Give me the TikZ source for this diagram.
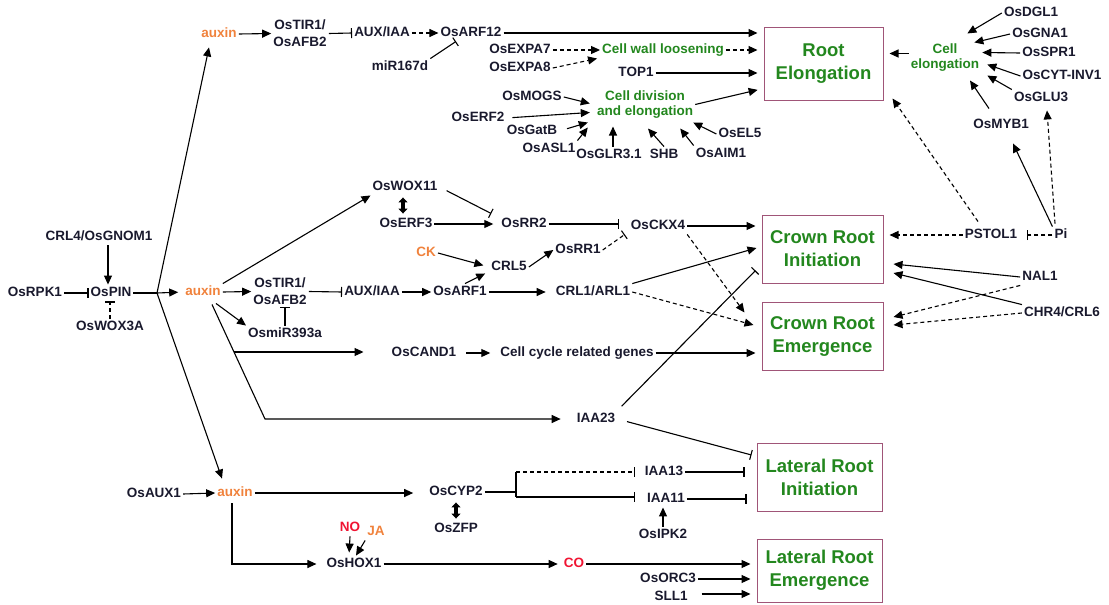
\documentclass[tikz,border=0pt]{standalone}
\usepackage{fontspec}
\setmainfont{Liberation Sans}
\usetikzlibrary{arrows.meta,calc}
\newlength{\du}
\setlength{\du}{1pt}

\begin{document}
\begin{tikzpicture}[x=\du,y=-\du,
  base/.style={inner sep=2pt, font=\fontsize{13.5}{15}\selectfont\bfseries},
  gene/.style={base, text=txt, text height=9.7pt, text depth=2.8pt},
  gene2/.style={base, text=txt, align=center, font=\fontsize{13.5}{17}\selectfont\bfseries},
  proc/.style={base, text=grn, align=center},
  hormone/.style={gene, text=orng},
  sig/.style={gene, text=redc},
  outcome/.style={draw=boxc, line width=1pt, align=center, text=grn, inner sep=0pt,
    font=\fontsize{18.5}{23}\selectfont\bfseries},
  act/.style={line width=1.1pt, -{Triangle[length=9pt,width=8pt]}},
  dact/.style={act, dash pattern=on 4pt off 3pt},
  inh/.style={line width=1.1pt, -{Bar[width=10pt]}},
  dinh/.style={inh, dash pattern=on 4pt off 3pt},
  plain/.style={line width=1.1pt},
  tobox/.style={shorten >=6pt},
  bind/.style={line width=3.5pt, shorten <=2pt, shorten >=2pt,
    {Triangle[length=5pt,width=9pt]}-{Triangle[length=5pt,width=9pt]}}
]
\definecolor{txt}{RGB}{25,25,45}
\definecolor{grn}{RGB}{35,135,30}
\definecolor{orng}{RGB}{240,130,60}
\definecolor{redc}{RGB}{240,20,50}
\definecolor{boxc}{RGB}{160,85,120}
\useasboundingbox (0,0) rectangle (1109,605);

% outcome boxes
\node[outcome, minimum width=119\du, minimum height=73\du] (RE) at (823.5,63.5) {Root\\Elongation};
\node[outcome, minimum width=121\du, minimum height=68\du] (CRI) at (822.5,249) {Crown Root\\Initiation};
\node[outcome, minimum width=121\du, minimum height=68\du] (CRE) at (822.5,336) {Crown Root\\Emergence};
\node[outcome, minimum width=125\du, minimum height=68\du] (LRI) at (819.5,477) {Lateral Root\\Initiation};
\node[outcome, minimum width=125\du, minimum height=63\du] (LRE) at (819.5,570.5) {Lateral Root\\Emergence};

% upper auxin branch
\node[hormone] (auxA) at (219,34) {auxin};
\node[gene2] (tirA) at (300,33.5) {OsTIR1/\\OsAFB2};
\node[gene] (aiaA) at (382,33) {AUX/IAA};
\node[gene] (arf12) at (471,33) {OsARF12};
\node[gene] (mir167) at (400,67) {miR167d};
\node[gene] (expa7) at (520,50) {OsEXPA7};
\node[gene] (expa8) at (520,68) {OsEXPA8};
\node[proc] (cwl) at (663,50) {Cell wall loosening};
\node[gene] (top1) at (636,73) {TOP1};
\node[gene] (mogs) at (532,97) {OsMOGS};
\node[proc] (cde) at (645,104.5) {Cell division\\and elongation};
\node[gene] (erf2) at (478,118) {OsERF2};
\node[gene] (gatb) at (532,131) {OsGatB};
\node[gene] (asl1) at (549,149) {OsASL1};
\node[gene] (glr) at (609,155) {OsGLR3.1};
\node[gene] (shb) at (664,155) {SHB};
\node[gene] (aim1) at (721,154) {OsAIM1};
\node[gene] (el5) at (740,134) {OsEL5};

\draw[act] (auxA.east) -- (tirA.west);
\draw[inh] (tirA.east) -- (aiaA.west);
\draw[dact] (aiaA.east) -- (arf12.west);
\draw[inh] (mir167.north east) -- ($(arf12.south)+(-15,0)$);
\draw[act,tobox] (arf12.east) -- (arf12.east -| RE.west);
\draw[dact] (expa7.east) -- (cwl.west);
\draw[dact] (expa8.east) -- ($(cwl.south west)+(-3,0)$);
\draw[dact,tobox] (cwl.east) -- (cwl.east -| RE.west);
\draw[act,tobox] (top1.east) -- (top1.east -| RE.west);
\draw[act] (mogs.east) -- ($(cde.west)+(-5,-1)$);
\draw[act,shorten <=6pt] (erf2.east) -- ($(cde.west)+(-5,8)$);
\draw[act,shorten <=8pt] (gatb.east) -- ($(cde.south west)+(-7,2)$);
\draw[act] (asl1.north east) -- ($(cde.south west)+(-7,7)$);
\draw[act] ($(glr.north)+(4,0)$) -- ($(glr.north |- cde.south)+(4,6)$);
\draw[act] (shb.north) -- ($(cde.south)+(3,8)$);
\draw[act] (aim1.north west) -- ($(cde.south east)+(-15,8)$);
\draw[act] (el5.west) -- ($(cde.south east)+(-2,2)$);
\draw[act,tobox] (cde.east) -- ($(RE.south west)+(0,-12)$);

% cell elongation group
\node[proc] (cel) at (945,57.5) {Cell\\elongation};
\node[gene] (dgl1) at (1031,13) {OsDGL1};
\node[gene] (gna1) at (1040,34) {OsGNA1};
\node[gene] (spr1) at (1049,53) {OsSPR1};
\node[gene] (cytinv) at (1062,76) {OsCYT-INV1};
\node[gene] (glu3) at (1041,98) {OsGLU3};
\node[gene] (myb1) at (1001,125) {OsMYB1};
\node[gene] (pi) at (1061,235) {Pi};
\node[gene] (pstol) at (991,235) {PSTOL1};
\node[gene] (nal1) at (1040,277) {NAL1};
\node[gene] (chr4) at (1062,313) {CHR4/CRL6};

\draw[act,tobox] ($(cel.west)+(0,-4)$) -- ($(cel.west -| RE.east)+(0,-4)$);
\draw[act] (dgl1.west) -- ($(cel.north east)+(-14,-8)$);
\draw[act] (gna1.west) -- ($(cel.north east)+(-7,1)$);
\draw[act] (spr1.west) -- ($(cel.east)+(1,-5)$);
\draw[act] (cytinv.west) -- ($(cel.east)+(6,7)$);
\draw[act] (glu3.north west) -- ($(cel.south east)+(6,2)$);
\draw[act] ($(myb1.north)+(-12,-8)$) -- ($(cel.south)+(25,7)$);
\draw[dinh] (pi.west) -- ($(pstol.east)+(8,0)$);
\draw[act] (pi.north west) -- ($(myb1.south)+(12,10)$);
\draw[dact] ($(pi.north)+(-6,-3)$) -- ($(glu3.south)+(6,4)$);
\draw[dact] ($(pstol.north)+(-13,-5)$) -- ($(RE.south east)+(9,-2)$);
\draw[dact,tobox] (pstol.west) -- (pstol.west -| CRI.east);
\draw[act] (nal1.west) -- ($(CRI.east)+(10,15)$);
\draw[act] (chr4.north west) -- ($(CRI.east)+(10,24)$);
\draw[dact] (nal1.south west) -- ($(CRE.east)+(10,-19)$);
\draw[dact] (chr4.west) -- ($(CRE.east)+(10,-11)$);

% OsPIN and middle auxin branch
\node[gene] (crl4) at (99,237) {CRL4/OsGNOM1};
\node[gene] (ospin) at (111,293) {OsPIN};
\node[gene] (rpk1) at (35,293) {OsRPK1};
\node[gene] (wox3a) at (110,327) {OsWOX3A};
\node[hormone] (auxB) at (203,292) {auxin};
\node[gene2] (tirB) at (280,291.5) {OsTIR1/\\OsAFB2};
\node[gene] (aiaB) at (372,292) {AUX/IAA};
\node[gene] (arf1) at (460,292) {OsARF1};
\node[gene] (mir393) at (285,334) {OsmiR393a};
\node[gene] (wox11) at (405,187) {OsWOX11};
\node[gene] (erf3) at (406,224) {OsERF3};
\node[gene] (rr2) at (524,224) {OsRR2};
\node[gene] (ckx4) at (658,226) {OsCKX4};
\node[gene] (rr1) at (578,250) {OsRR1};
\node[hormone] (ck) at (426,253) {CK};
\node[gene] (crl5) at (509,267) {CRL5};
\node[gene] (crl1) at (593,292) {CRL1/ARL1};
\node[gene] (cand1) at (424,353) {OsCAND1};
\node[gene] (ccrg) at (577,353) {Cell cycle related genes};
\node[gene] (iaa23) at (596,419) {IAA23};
\coordinate (br) at (157,293);
\coordinate (jl) at (265,419);
\coordinate (jc) at (234.3,352);

\draw[act] ($(ospin.north |- crl4.south)+(-3,0)$) -- ($(ospin.north)+(-3,0)$);
\draw[inh] (rpk1.east) -- (ospin.west);
\draw[dinh] (wox3a.north) -- (wox3a.north |- ospin.south);
\draw[plain] (ospin.east) -- (br);
\draw[act] (br) -- ($(auxA.south)+(-10,5)$);
\draw[act,shorten >=5pt] (br) -- (auxB.west);
\draw[act] (auxB.east) -- (tirB.west);
\draw[inh] (tirB.east) -- (aiaB.west);
\draw[act] (aiaB.east) -- (arf1.west);
\draw[inh] (mir393.north) -- (mir393.north |- tirB.south);
\draw[act] ($(auxB.south)+(13,3)$) -- (mir393.north west);
\draw[act] (auxB.north east) -- (wox11.south west);
\draw[bind] ($(wox11.south)+(-2,0)$) -- ($(erf3.north)+(-3,0)$);
\draw[act,shorten >=6pt] (erf3.east) -- (rr2.west);
\draw[inh,shorten <=8pt] (wox11.east) -- ($(rr2.north west)+(-8,-2)$);
\draw[inh] (rr2.east) -- ($(rr2.east -| ckx4.west)+(-10,0)$);
\draw[dinh] (rr1.east) -- ($(ckx4.south west)+(-4,0)$);
\draw[act,shorten >=6pt] (ck.east) -- (crl5.west);
\draw[act] (crl5.east) -- (rr1.west);
\draw[act] ($(arf1.north)+(5,0)$) -- ($(crl5.south west)+(-4,-2)$);
\draw[act,shorten >=8pt] (arf1.east) -- (crl1.west);
\draw[act,tobox] (ckx4.east) -- (ckx4.east -| CRI.west);
\draw[dact] (ckx4.south east) -- ($(CRE.north west)+(-17,11)$);
\draw[act] (crl1.north east) -- ($(CRI.west)+(-5,-1)$);
\draw[dact] (crl1.east) -- ($(CRE.west)+(-8,-11)$);
\draw[inh,shorten <=6pt] (iaa23.north east) -- ($(CRI.south west)+(-6,-13)$);
\draw[act,shorten <=8pt,shorten >=8pt] (cand1.east) -- (ccrg.west);
\draw[act,tobox] (ccrg.east) -- (ccrg.east -| CRE.west);
\draw[act,shorten >=14pt] ($(auxB.south)+(9,4)$) -- (jl) -- (iaa23.west);
\draw[act,shorten >=26pt] (jc) -- (jc -| cand1.west);
\draw[inh,shorten <=10pt] (iaa23.east) -- ($(LRI.west)+(-5,-22)$);

% lower auxin branch
\node[gene] (aux1) at (154,494) {OsAUX1};
\node[hormone] (auxC) at (235,493) {auxin};
\node[gene] (cyp2) at (456,492) {OsCYP2};
\node[gene] (zfp) at (456,529) {OsZFP};
\node[gene] (iaa13) at (664,472) {IAA13};
\node[gene] (iaa11) at (666,499) {IAA11};
\node[gene] (ipk2) at (663,535) {OsIPK2};
\node[gene] (hox1) at (354,564) {OsHOX1};
\node[sig] (no) at (350,528) {NO};
\node[hormone] (ja) at (376,532) {JA};
\node[sig] (co) at (574,564) {CO};
\node[gene] (orc3) at (668,579) {OsORC3};
\node[gene] (sll1) at (671,597) {SLL1};
\coordinate (cj) at (516,492);
\coordinate (cj13) at (516,472);
\coordinate (cj11) at (516,497);

\draw[act] (br) -- ($(auxC.north)+(-13,-6)$);
\draw[act] (aux1.east) -- (auxC.west);
\draw[act,shorten >=14pt] (auxC.east) -- (auxC.east -| cyp2.west);
\draw[bind] (cyp2.south) -- (zfp.north);
\draw[plain] (cyp2.east) -- (cj);
\draw[plain] (cj13) -- (cj11);
\draw[dinh] (cj13) -- ($(cj13 -| iaa13.west)+(-8,0)$);
\draw[inh] (cj11) -- ($(cj11 -| iaa11.west)+(-10,0)$);
\draw[inh] (iaa13.east) -- ($(iaa13.east -| LRI.west)+(-12,0)$);
\draw[inh] (iaa11.east) -- ($(iaa11.east -| LRI.west)+(-10,0)$);
\draw[act] (ipk2.north) -- (ipk2.north |- iaa11.south);
\draw[act,shorten >=8pt] ($(auxC.south)+(-3,2)$) |- (hox1.west);
\draw[act,shorten >=3pt] (no.south) -- ($(hox1.north)+(-5,0)$);
\draw[act] (ja.south west) -- ($(hox1.north)+(2,0)$);
\draw[act,shorten >=4pt] (hox1.east) -- (co.west);
\draw[act,tobox] (co.east) -- (co.east -| LRE.west);
\draw[act,tobox] (orc3.east) -- (orc3.east -| LRE.west);
\draw[act,tobox] ($(sll1.east)+(12,-3)$) -- ($(sll1.east -| LRE.west)+(0,-3)$);
\end{tikzpicture}
\end{document}
